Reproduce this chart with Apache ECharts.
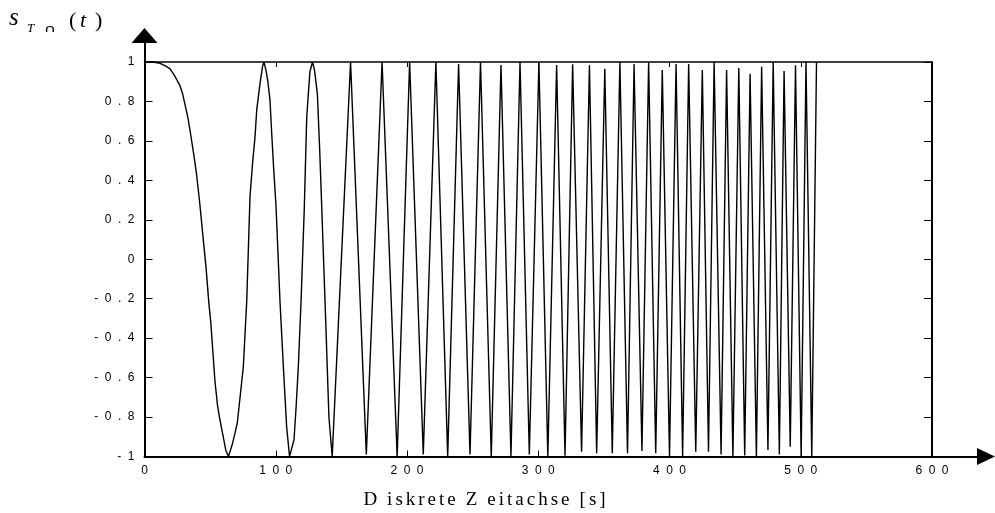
<!DOCTYPE html>
<html><head><meta charset="utf-8">
<script src="https://cdn.jsdelivr.net/npm/echarts@6/dist/echarts.min.js"></script>
<style>html,body{margin:0;padding:0;background:#fff}#c{width:995px;height:513px}</style>
</head><body><div id="c"></div>
<script>
// ---- data ----
const xTicks = [0, 100, 200, 300, 400, 500, 600];
const yTicks = [-1, -0.8, -0.6, -0.4, -0.2, 0, 0.2, 0.4, 0.6, 0.8, 1];
const xAxisName = 'D iskrete Z eitachse [s]';
// [t, s(t)] : first lobes in detail, then the extrema of the chirp
const signalStart = [
  [0,1],[6,1],[11,0.995],[16,0.98],[19.5,0.965],[23,0.93],[27,0.88],[29,0.84],[31,0.78],[33,0.72],
  [35,0.64],[37,0.555],[39.5,0.44],[42,0.29],[44.5,0.12],[47,-0.05],[49,-0.22],[50.5,-0.32],[52,-0.46],
  [53.7,-0.62],[55.7,-0.745],[57.5,-0.815],[60,-0.9],[62,-0.97],[64,-1],[65.5,-0.99],[67,-0.935],
  [69,-0.88],[70.7,-0.83],[72.8,-0.7],[75.3,-0.545],[77.9,-0.21],[80.4,0.32],[82.5,0.5],[84.2,0.62],
  [85.5,0.757],[88,0.89],[90,0.98],[91,1],[92.5,0.96],[94,0.9],[95.6,0.807],[96.9,0.64],[98.5,0.45],
  [100.2,0.27],[103.2,-0.21],[105.8,-0.545],[108.3,-0.85],[110.5,-1],[111.5,-0.99],[113.9,-0.916],
  [115.5,-0.75],[117.2,-0.545],[119.3,-0.21],[121.8,0.27],[123.6,0.72],[126,0.95],[128,1],[129.5,0.96],
  [131.7,0.84],[133.5,0.55],[135,0.27],[138,-0.3],[140.5,-0.8],[143,-1]
];
const signalExtrema = [
  [157,1],[169,-0.99],[181,1],[192.5,-1],[202,1],[212.4,-0.99],[222,1],[231,-1],[239.3,0.99],
  [248,-0.99],[256,1],[264.2,-1],[271.6,0.985],[279.2,-1],[286.1,1],[293.2,-0.99],[300.5,1],
  [307.3,-1],[314,0.985],[320.4,-0.996],[326.2,0.988],[333,-0.976],[339,0.983],[344.5,-0.984],
  [350.7,0.966],[356.4,-0.984],[362.2,1],[368,-0.984],[373,0.99],[379,-0.972],[384.1,1],
  [389.5,-0.984],[394.5,0.96],[400,-1],[405,0.99],[410,-1],[414.6,0.99],[420,-0.976],[425,0.96],
  [429.7,-0.976],[434,1],[439.3,-0.99],[443.5,0.96],[448.3,-1],[452.8,0.97],[457.3,-0.995],
  [461.4,0.94],[466.2,-1],[470.2,0.976],[475,-0.967],[479,1],[483.7,-0.99],[487.3,0.954],
  [492,-0.95],[496,0.983],[500.3,-1],[504,1],[508.4,-1],[512,1]
];
const signal = signalStart.concat(signalExtrema);

// ---- layout ----
const L = 144.5, R = 932, T = 62, B = 456.5;
const xArrowEnd = 986, yArrowEnd = 35.5;
const xMin = xTicks[0], xMax = xTicks[xTicks.length - 1];
const yMin = yTicks[0], yMax = yTicks[yTicks.length - 1];
const xStep = xTicks[1] - xTicks[0];
const yStep = Math.round((yTicks[1] - yTicks[0]) * 10) / 10;
const xMaxExt = xMin + (xMax - xMin) * (xArrowEnd - L) / (R - L);
const yMaxExt = yMin + (yMax - yMin) * (B - yArrowEnd) / (B - T);
const black = '#000';
const SANS = 'Liberation Sans, Arial, sans-serif';
const SERIF = 'Liberation Serif, Times New Roman, serif';

// letter-spaced tick labels through rich-text padding
const tickRich = {
  c: { fontFamily: SANS, fontSize: 12, color: black, padding: [0, 6.5, 0, 0] },
  e: { fontFamily: SANS, fontSize: 12, color: black }
};
const fmt = v => {
  const ch = String(Math.round(v * 10) / 10).split('');
  return ch.map((c, i) => '{' + (i < ch.length - 1 ? 'c' : 'e') + '|' + c + '}').join('');
};
// letter-spaced axis title
const titleRich = {
  a: { fontFamily: SERIF, fontSize: 19, color: black, padding: [0, 3, 0, 0] },
  w: { fontFamily: SERIF, fontSize: 19, color: black, padding: [0, 10, 0, 0] },
  e: { fontFamily: SERIF, fontSize: 19, color: black }
};
const titleChars = xAxisName.split('');
const spacedTitle = titleChars.map((c, i) => {
  if (c === ' ') return '';
  const st = i === titleChars.length - 1 ? 'e' : (titleChars[i + 1] === ' ' ? 'w' : 'a');
  return '{' + st + '|' + c + '}';
}).join('');

const noAxisPart = { show: false };
const chart = echarts.init(document.getElementById('c'), null, { renderer: 'canvas' });
chart.setOption({
  animation: false,
  backgroundColor: '#fff',
  grid: [
    { left: L, top: yArrowEnd, width: xArrowEnd - L, height: B - yArrowEnd },
    { left: L, top: T, width: R - L, height: B - T }
  ],
  xAxis: [
    { gridIndex: 0, type: 'value', min: xMin, max: xMaxExt,
      axisLine: { show: true, onZero: false, symbol: ['none', 'triangle'], symbolSize: [17, 18], lineStyle: { color: black, width: 2 } },
      axisTick: noAxisPart, axisLabel: noAxisPart, splitLine: noAxisPart },
    { gridIndex: 1, type: 'value', position: 'bottom', min: xMin, max: xMax, interval: xStep,
      axisLine: { show: false, onZero: false },
      axisTick: { show: true, inside: true, length: 6, lineStyle: { color: black, width: 1 } },
      axisLabel: { show: true, margin: 8, formatter: fmt, rich: tickRich },
      splitLine: noAxisPart },
    { gridIndex: 1, type: 'value', position: 'top', min: xMin, max: xMax, interval: xStep,
      axisLine: { show: true, onZero: false, lineStyle: { color: black, width: 1.5 } },
      axisTick: { show: true, inside: true, length: 5, lineStyle: { color: black, width: 1 } },
      axisLabel: noAxisPart, splitLine: noAxisPart }
  ],
  yAxis: [
    { gridIndex: 0, type: 'value', min: yMin, max: yMaxExt,
      axisLine: { show: true, onZero: false, symbol: ['none', 'triangle'], symbolSize: [26, 15], lineStyle: { color: black, width: 2 } },
      axisTick: noAxisPart, axisLabel: noAxisPart, splitLine: noAxisPart },
    { gridIndex: 1, type: 'value', position: 'left', min: yMin, max: yMax, interval: yStep,
      axisLine: { show: false, onZero: false },
      axisTick: { show: true, inside: true, length: 8, lineStyle: { color: black, width: 1 } },
      axisLabel: { show: true, margin: 10, formatter: fmt, rich: tickRich },
      splitLine: noAxisPart },
    { gridIndex: 1, type: 'value', position: 'right', min: yMin, max: yMax, interval: yStep,
      axisLine: { show: true, onZero: false, lineStyle: { color: black, width: 2 } },
      axisTick: { show: true, inside: true, length: 8, lineStyle: { color: black, width: 1 } },
      axisLabel: noAxisPart, splitLine: noAxisPart }
  ],
  graphic: [
    { type: 'text', left: 9, top: 6, style: { text: 's', font: 'italic 25px ' + SERIF, fill: black } },
    { type: 'text', left: 27, top: 22, style: { text: 'T', font: 'italic 13px ' + SERIF, fill: black } },
    { type: 'text', x: 44, y: 34, scaleY: 0.6, style: { text: '\u2229', font: '17px DejaVu Sans, sans-serif', fill: black, verticalAlign: 'bottom' } },
    { type: 'text', left: 69, top: 10, style: { text: '(', font: '22px ' + SERIF, fill: black } },
    { type: 'text', left: 80, top: 10, style: { text: 't', font: 'italic 22px ' + SERIF, fill: black } },
    { type: 'text', left: 95, top: 10, style: { text: ')', font: '22px ' + SERIF, fill: black } },
    { type: 'text', x: 484.5, y: 500, style: { text: spacedTitle, rich: titleRich, align: 'center', verticalAlign: 'middle', fill: black } }
  ],
  series: [
    { type: 'line', xAxisIndex: 1, yAxisIndex: 1, data: signal, showSymbol: false, symbol: 'none',
      lineStyle: { color: black, width: 1.4 }, clip: false, z: 3 }
  ]
});
</script>
</body></html>
